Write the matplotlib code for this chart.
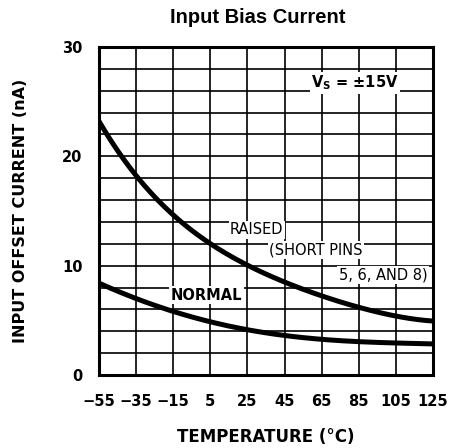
import matplotlib
matplotlib.use("Agg")
import matplotlib.pyplot as plt
import numpy as np

# ---- data ----
temps = [-55, -35, -15, 5, 25, 45, 65, 85, 105, 125]
raised = [23.2, 18.3, 14.6, 11.9, 10.2, 8.5, 7.2, 6.1, 5.5, 4.9]
normal = [8.4, 7.0, 5.8, 4.9, 4.1, 3.6, 3.3, 3.05, 2.9, 2.85]
x_ticks = temps
y_labels = [0, 10, 20, 30]

NARROW = ['DejaVu Sans Condensed', 'DejaVu Sans']

def smooth(x, y, n=200):
    xs = np.linspace(x[0], x[-1], n)
    coef = np.polyfit(x, y, 4)
    return xs, np.polyval(coef, xs)

fig = plt.figure(figsize=(4.52, 4.48), dpi=100)
ax = fig.add_axes([0.219, 0.163, 0.739, 0.732])

xs, ys = smooth(temps, raised)
ax.plot(xs, ys, color='black', lw=3.6, solid_capstyle='butt', zorder=3)
xs, ys = smooth(temps, normal)
ax.plot(xs, ys, color='black', lw=3.6, solid_capstyle='butt', zorder=3)

ax.set_xlim(-55, 125)
ax.set_ylim(0, 30)
ax.set_xticks(x_ticks)
ax.set_yticks(np.arange(0, 31, 2))
ax.set_yticklabels([str(v) if v in y_labels else '' for v in np.arange(0, 31, 2)])
ax.grid(True, color='black', lw=1.2, zorder=1)
ax.tick_params(axis='x', length=0, pad=14)
ax.tick_params(axis='y', length=0, pad=12)
for lab in ax.get_xticklabels() + ax.get_yticklabels():
    lab.set_fontweight('bold')
    lab.set_fontsize(10.5)
    lab.set_family(NARROW)
for s in ax.spines.values():
    s.set_linewidth(2.2)

box = dict(facecolor='white', edgecolor='none', pad=1.0)
txt = dict(fontsize=10.5, family=NARROW, zorder=4, bbox=box)
ax.text(83, 26.7, r'V$_\mathregular{S}$ = ±15V', ha='center', va='center', fontweight='bold', **txt)
ax.text(30, 13.3, 'RAISED', ha='center', va='center', **txt)
ax.text(62, 11.4, '(SHORT PINS', ha='center', va='center', **txt)
ax.text(122, 9.15, '5, 6, AND 8)', ha='right', va='center', **txt)
ax.text(3, 7.3, 'NORMAL', ha='center', va='center', fontweight='bold', **txt)

fig.text(0.587, 0.025, 'TEMPERATURE (°C)', ha='center', va='center',
         fontsize=12, fontweight='bold', family=NARROW)
ax.set_ylabel('INPUT OFFSET CURRENT (nA)', fontsize=11.5, fontweight='bold', family=NARROW, labelpad=24)
fig.text(0.571, 0.962, 'Input Bias Current', ha='center', va='center',
         fontsize=14.5, fontweight='bold', family='Liberation Sans')

fig.savefig('out.png', dpi=100)
